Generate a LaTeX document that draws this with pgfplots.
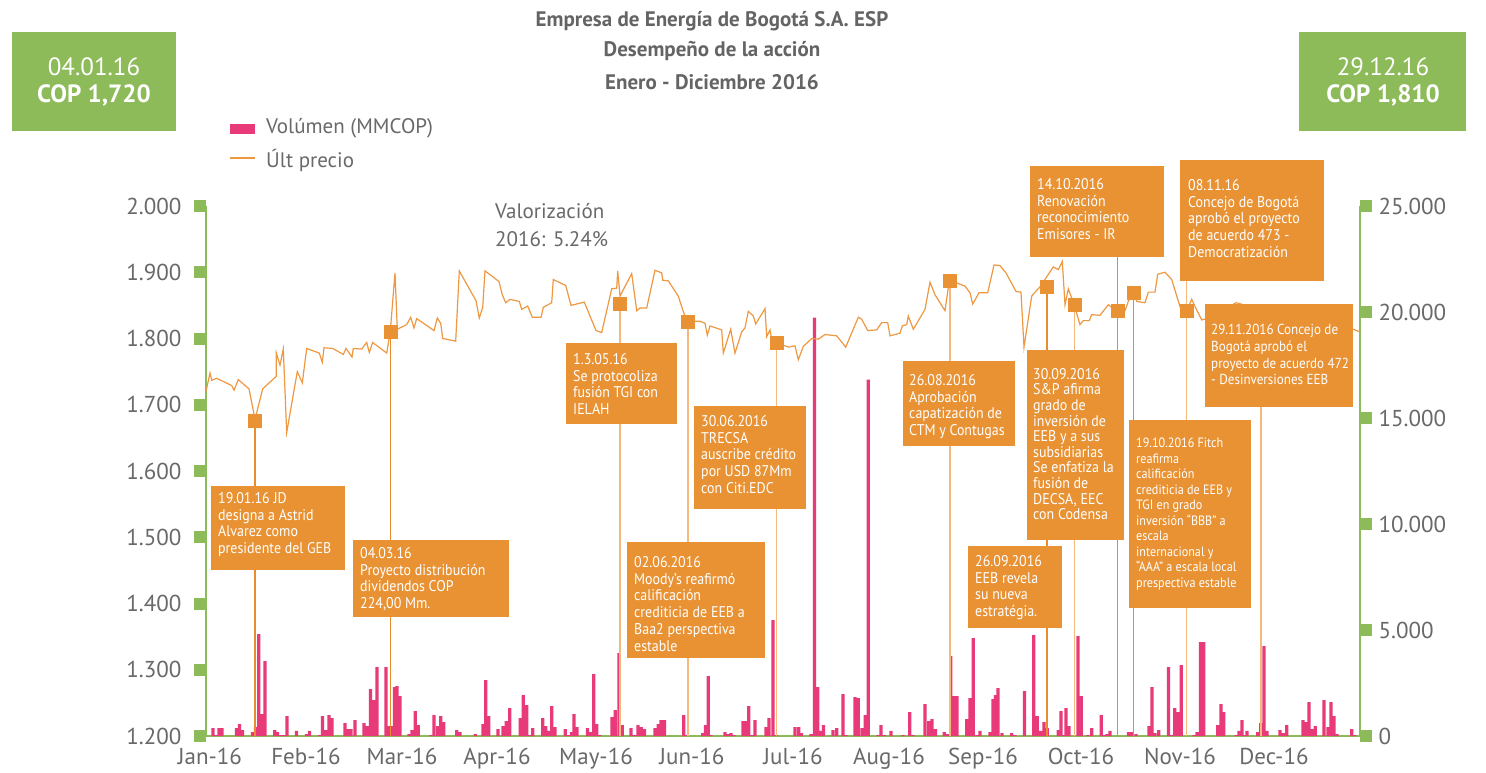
\documentclass[border=0pt]{standalone}
\usepackage{pgfplots}
\pgfplotsset{compat=1.18}
\usepackage{fontspec}
\setmainfont{PT Sans}
\newfontfamily\boxfont{PT Sans}[FakeStretch=0.9]
\definecolor{eebgreen}{RGB}{141,187,90}
\definecolor{eebpink}{RGB}{232,58,121}
\definecolor{eebbox}{RGB}{233,146,52}
\definecolor{eebline}{RGB}{238,152,65}
\definecolor{eebdark}{RGB}{232,140,45}
\definecolor{eeblight}{RGB}{245,184,125}
\definecolor{eebgray}{RGB}{105,105,105}
\definecolor{eebtitle}{RGB}{100,100,100}
\begin{document}
\begin{tikzpicture}[x=1pt,y=1pt]
\useasboundingbox (0,0) rectangle (1486,772);
\fill[white] (0,0) rectangle (1486,772);

% ---------- volume axis (right) ----------
\begin{axis}[
  at={(206pt,36pt)}, anchor=south west,
  width=1154pt, height=530pt, scale only axis,
  xmin=206, xmax=1360, ymin=0, ymax=25000,
  axis x line*=bottom, axis y line*=right,
  axis line style={draw=eebgreen, line width=1.5pt, -},
  xtick={210,306,402,497,596,692,793,889,983,1081,1180,1274},
  xticklabels={Jan-16,Feb-16,Mar-16,Apr-16,May-16,Jun-16,Jul-16,Aug-16,Sep-16,Oct-16,Nov-16,Dec-16},
  x tick style={draw=none},
  ytick={0,5000,10000,15000,20000,25000},
  scaled y ticks=false,
  y tick style={draw=eebgreen, line width=12pt},
  major tick length=12pt, tick align=outside,
  ticklabel style={font=\fontsize{23}{27}\selectfont, text=eebgray},
  xticklabel style={yshift=3pt},
  yticklabel style={xshift=3pt},
  /pgf/number format/1000 sep={.},
  /pgf/number format/assume math mode=true,
  clip=false,
]
\addplot[ybar, bar width=3.2, fill=eebpink, draw=none] coordinates {
(213,377) (216,47) (219,377) (222,377)
(236.5,377) (239.5,565) (242.5,283)
(252.5,188) (255.5,424) (258.7,4804) (261.7,1036) (265,3533)
(274.7,283) (277.5,188) (280.5,47) (283.5,47) (287,942)
(296.5,236)
(306.5,94) (309.5,236)
(319.5,47) (322.5,942) (326,283) (329,989) (332,848)
(345,612) (348,330) (351,330) (355,754)
(364,612) (367,471) (370.5,2214) (374,1696) (377,3250)
(386,3250) (389,471) (392,471) (394.5,2308) (397,2355) (400,1884)
(409,94) (412,283) (415.3,1178) (418.3,518)
(431,47) (434,989) (437.7,471) (440.7,942) (443.7,659)
(456.7,283) (460,188)
(475.3,94)
(483,565) (485.7,2638) (488.7,942)
(498,330)
(503,471) (506.3,707) (509.7,1319)
(520.3,848) (523.3,1931) (526.7,1460) (530,47) (532.7,377)
(542.7,848) (545.7,471) (548.7,236) (551.7,1413) (555,424)
(565.3,330) (568.5,47) (571.5,188) (574,1036) (577,424)
(587.5,377) (590.7,188) (593.7,2920) (596.7,565) (600,47)
(612,895) (615.3,1225) (619,3909) (622.3,518)
(631,377) (634.5,47) (638,518) (641.3,424) (644.5,330)
(655,377) (658.3,565) (661,754) (664.5,754)
(683.7,989) (686.5,47)
(702.7,141) (705.5,518) (708.3,2826) (711,47)
(725,188) (728,94) (731,141) (734,47)
(743,707) (746,707) (748.7,1413) (752,47) (755,754)
(766,424) (769,848) (773,5464) (776.5,47)
(795,424) (798.7,424) (801.5,141)
(811,94) (814.5,19735) (817.7,2308) (820.7,236) (823.5,518)
(833,283) (836.7,377)
(843,1978) (846,47)
(855,1837) (858.3,1790) (862,377) (865.3,989) (868.3,16815)
(878,47) (881,518) (884.5,47)
(891,236)
(903,47) (909.7,1130) (913,47)
(925,1507) (928.7,707) (932,800) (935.5,330)
(944.3,188) (947.5,94) (950.7,3768) (953.7,1884) (957,1884)
(966.7,800) (970,1790) (973.3,4616) (977,47) (980,236)
(990,188) (993,1743) (995.5,1931) (998,2261) (1002,141)
(1011.7,141) (1015,47)
(1024.5,2120)
(1033.7,4757) (1037.3,942) (1040.7,236) (1044,659) (1047.3,377)
(1058.3,283) (1061,1178) (1064,47) (1066,1319) (1069,471)
(1078,4710) (1081.3,1884)
(1088,47) (1091.7,377)
(1101.3,989) (1104,47) (1107,94) (1110,236)
(1128.5,188) (1131.5,188) (1136,94)
(1149,471) (1152,2308) (1155,141) (1158.7,283)
(1168.5,3250) (1171.5,47) (1174.7,1319) (1178,1130) (1181.3,3344)
(1194,47) (1197,188) (1200.5,4427) (1203.7,4427)
(1217.7,518) (1221,1507) (1223.7,1130)
(1236,47) (1239,236) (1242,754) (1244.5,47) (1247,236)
(1257.7,188) (1260.7,612) (1264,4239) (1267,236)
(1280,283) (1283.3,141) (1286.7,518)
(1303,754) (1306.3,659) (1309,1601) (1312,330) (1315.3,471)
(1324,1696) (1328,424) (1331,1601) (1334,942) (1337,94)
(1351.7,330) (1354.5,47)
};
\end{axis}

% ---------- price axis (left) ----------
\begin{axis}[
  at={(206pt,36pt)}, anchor=south west,
  width=1154pt, height=530pt, scale only axis,
  xmin=206, xmax=1360, ymin=1200, ymax=2000,
  axis x line=none, axis y line*=left,
  axis line style={draw=eebgreen, line width=1.5pt, -},
  ytick={1200,1300,1400,1500,1600,1700,1800,1900,2000},
  y tick style={draw=eebgreen, line width=12pt},
  major tick length=12pt, tick align=outside,
  ticklabel style={font=\fontsize{23}{27}\selectfont, text=eebgray},
  yticklabel style={xshift=-9pt},
  /pgf/number format/1000 sep={.},
  /pgf/number format/assume math mode=true,
]
\addplot[ycomb, draw=eebdark, line width=1.5pt] coordinates {
(255,1676) (390.3,1811) (1047,1878) (1117.3,1925) (1133.3,1869)
};
\addplot[ycomb, draw=eeblight, line width=1.5pt] coordinates {
(620,1852) (688,1825) (776.3,1793) (950,1887) (1074.3,1851) (1186.3,1890) (1261,1700)
};
\addplot[eebline, line width=1.2pt] coordinates {
(206,1720) (210,1748) (211.7,1737) (216.7,1740) (231.7,1729) (234,1722) (238.3,1738) (249,1724) (255,1678) (262.7,1724) (276.3,1743) (276.3,1778)
(280,1760) (283.3,1784) (286.7,1658) (297.3,1750) (302.3,1733) (306.7,1785) (319.3,1778) (322.3,1764) (324,1786) (332.7,1785) (343.3,1776) (346,1785) (352,1772) (353.3,1785) (361.7,1784) (366.7,1794) (369.3,1779) (372.7,1794) (386.7,1778) (390.3,1811) (395,1899) (397.3,1814) (406.7,1821) (410.7,1832) (414,1816) (416.7,1830) (434,1812) (437.3,1831) (440.7,1823) (442.7,1800) (455.7,1796) (459.3,1902) (476,1857) (479.3,1831) (482.7,1847) (485,1902) (499,1886) (502.3,1866) (505.7,1854) (510,1859) (519.3,1856) (521.7,1844) (527.7,1849) (532.3,1832) (541,1832) (543.3,1847) (551.7,1854) (553.3,1889) (565.7,1880) (571,1850) (584.3,1855) (596,1812) (601.7,1809) (611.7,1875) (616.7,1876) (617.7,1902) (620,1864) (631.7,1898) (636.7,1842) (640,1846) (646.7,1846) (655,1903) (661.7,1899) (662.7,1888) (668.3,1887) (678.3,1864) (681.7,1848) (686.7,1826) (700,1826) (705,1823) (707.3,1805) (710,1819) (721.7,1813) (723.3,1778) (730.7,1814) (735,1778) (741.7,1810) (745,1816) (748.3,1841) (753.3,1834) (755.7,1822) (765,1845) (766.7,1803) (770,1813) (771.7,1798) (776.3,1793) (783.3,1790) (788.3,1787) (795,1789) (798.3,1768) (803.3,1788) (811.7,1800) (818.3,1799) (825,1806) (836.7,1804) (845.7,1787) (858.3,1832) (861.7,1829) (867.7,1812) (876.7,1813) (881.7,1824) (887.7,1824) (890,1804) (900,1808) (902.3,1819) (906.7,1821) (908.3,1834) (913.3,1814) (925,1844) (930,1885) (935,1866) (945,1842) (948.3,1877) (950,1886) (956.7,1884) (965,1879) (970,1869) (972.7,1852) (979,1869) (987.7,1869) (994,1911) (1000,1910) (1006,1899) (1016,1871) (1021,1870) (1024,1787) (1031.7,1864) (1035,1870) (1040,1878)
(1053.3,1908) (1058.3,1904) (1062.3,1916) (1065,1851) (1068.3,1875) (1074.3,1850) (1080,1821) (1083.3,1827) (1089.3,1827) (1091.7,1836) (1100,1835) (1108.3,1851) (1113.3,1845) (1117.3,1841) (1125,1842) (1128.3,1856) (1133.3,1869) (1136.7,1856) (1145,1854) (1148.3,1870) (1155,1870) (1157.7,1897) (1165,1900) (1171.7,1889) (1180,1848) (1186.3,1841) (1191.7,1859) (1196.7,1843) (1201.7,1828) (1212,1832) (1222,1842) (1236,1854) (1246,1850) (1260,1846) (1280,1838) (1300,1832) (1320,1826) (1340,1818) (1353.3,1814) (1360,1810)
};
\addplot[only marks, color=eebbox, mark=square*, mark size=6.5pt, mark options={fill=eebbox, draw=eebbox}] coordinates {
(255,1676) (390.3,1811) (620,1852) (688,1825) (776.3,1793) (950,1887) (1047,1878) (1074.3,1851) (1117.3,1842) (1133.3,1869) (1186.3,1842)
};
\end{axis}

% ---------- annotation boxes ----------
\tikzset{ann/.style={anchor=north west, inner sep=0pt, align=left, text=white, font=\boxfont\fontsize{15.5}{16.8}\selectfont},
         anns/.style={ann, font=\boxfont\fontsize{13.5}{15.5}\selectfont}}
\fill[eebbox] (211,202) rectangle (345,286);
\node[ann] at (218,280) {19.01.16 JD\\designa a Astrid\\Alvarez como\\presidente del GEB};
\fill[eebbox] (353,155) rectangle (509,232);
\node[ann] at (360,225) {04.03.16\\Proyecto distribución\\dividendos COP\\224,00 Mm.};
\fill[eebbox] (566,348) rectangle (677,429);
\node[ann] at (573,419) {1.3.05.16\\Se protocoliza\\fusión TGI con\\IELAH};
\fill[eebbox] (627,114) rectangle (765,230);
\node[ann] at (634,216) {02.06.2016\\Moody’s reafirmó\\calificación\\crediticia de EEB a\\Baa2 perspectiva\\estable};
\fill[eebbox] (694,263) rectangle (806,366);
\node[ann] at (701,357) {30.06.2016\\TRECSA\\auscribe crédito\\por USD 87Mm\\con Citi.EDC};
\fill[eebbox] (903,326) rectangle (1015,411);
\node[ann] at (909,398) {26.08.2016\\Aprobación\\capatización de\\CTM y Contugas};
\fill[eebbox] (968,144) rectangle (1062,226);
\node[ann] at (975,217) {26.09.2016\\EEB revela\\su nueva\\estratégia.};
\fill[eebbox] (1027,232) rectangle (1124,422);
\node[ann, font=\boxfont\fontsize{15.5}{15.6}\selectfont] at (1033,404) {30.09.2016\\S\&P afirma\\grado de\\inversión de\\EEB y a sus\\subsidiarias\\Se enfatiza la\\fusión de\\DECSA, EEC\\con Codensa};
\fill[eebbox] (1030,515) rectangle (1164,606);
\node[ann] at (1037,594) {14.10.2016\\Renovación\\reconocimiento\\Emisores - IR};
\fill[eebbox] (1180,491) rectangle (1324,612);
\node[ann] at (1188,593) {08.11.16\\Concejo de Bogotá\\aprobó el proyecto\\de acuerdo 473 -\\Democratización};
\fill[eebbox] (1205,365) rectangle (1353,468);
\node[ann, font=\boxfont\fontsize{14.5}{16.8}\selectfont] at (1211,448) {29.11.2016 Concejo de\\Bogotá aprobó el\\proyecto de acuerdo 472\\- Desinversiones EEB};
\fill[eebbox] (1129,164) rectangle (1251,352);
\node[anns] at (1136,334) {19.10.2016 Fitch\\reafirma\\calificación\\crediticia de EEB y\\TGI en grado\\inversión “BBB” a\\escala\\internacional y\\“AAA” a escala local\\prespectiva estable};

% ---------- title ----------
\node[font=\bfseries\fontsize{21}{25}\selectfont, text=eebtitle] at (712,751) {Empresa de Energía de Bogotá S.A. ESP};
\node[font=\bfseries\fontsize{21}{25}\selectfont, text=eebtitle] at (712,721) {Desempeño de la acción};
\node[font=\bfseries\fontsize{21}{25}\selectfont, text=eebtitle] at (712,690) {Enero - Diciembre 2016};

% ---------- green boxes ----------
\fill[eebgreen] (12,641) rectangle (176,740);
\node[text=white, font=\fontsize{25}{28}\selectfont] at (94,705) {04.01.16};
\node[text=white, font=\bfseries\fontsize{25}{28}\selectfont] at (94,677) {COP 1,720};
\fill[eebgreen] (1299,641) rectangle (1466,740);
\node[text=white, font=\fontsize{25}{28}\selectfont] at (1383,705) {29.12.16};
\node[text=white, font=\bfseries\fontsize{25}{28}\selectfont] at (1383,677) {COP 1,810};

% ---------- legend ----------
\fill[eebpink] (230,638) rectangle (255,648);
\node[anchor=west, inner sep=0pt, text=eebgray, font=\fontsize{21}{25}\selectfont] at (266,644) {Volúmen (MMCOP)};
\draw[eebline, line width=1.3pt] (230,614) -- (255,614);
\node[anchor=west, inner sep=0pt, text=eebgray, font=\fontsize{21}{25}\selectfont] at (266,612) {Últ precio};

% ---------- valorizacion ----------
\node[anchor=west, inner sep=0pt, text=eebgray, font=\fontsize{21}{25}\selectfont] at (495,561) {Valorización};
\node[anchor=west, inner sep=0pt, text=eebgray, font=\fontsize{21}{25}\selectfont] at (495,533) {2016: 5.24\%};
\end{tikzpicture}
\end{document}
